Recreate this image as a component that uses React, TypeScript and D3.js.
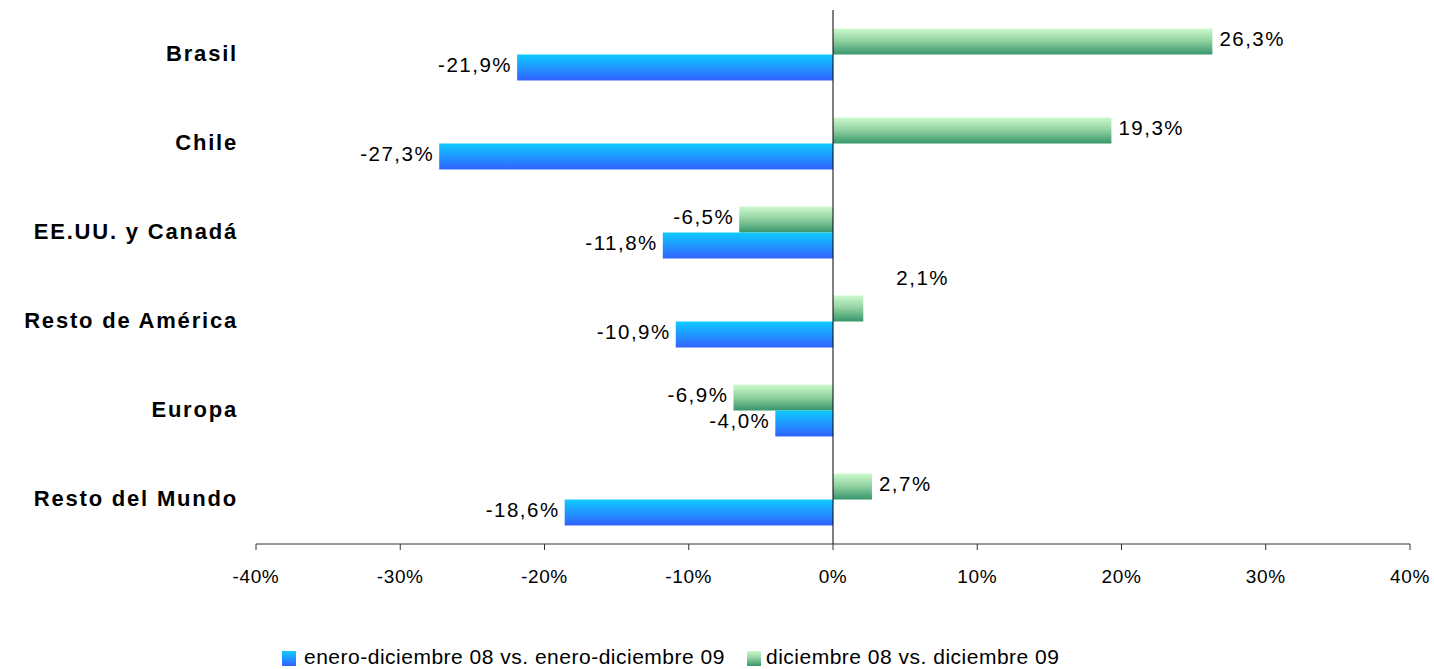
import { scaleBand, scaleLinear } from "d3"

const categories = ["Brasil", "Chile", "EE.UU. y Canadá", "Resto de América", "Europa", "Resto del Mundo"]
const seriesKeys = ["dic", "anual"]
const seriesNames = ["enero-diciembre 08 vs. enero-diciembre 09", "diciembre 08 vs. diciembre 09"]
// diciembre 08 vs diciembre 09 (verde)
const decValues = [26.3, 19.3, -6.5, 2.1, -6.9, 2.7]
// enero-diciembre 08 vs enero-diciembre 09 (azul)
const yearValues = [-21.9, -27.3, -11.8, -10.9, -4.0, -18.6]
const ticks = [-40, -30, -20, -10, 0, 10, 20, 30, 40]

const W = 1434
const H = 669
const FONT = "'Liberation Sans', Arial, sans-serif"

const fmt = (v: number) => `${v.toFixed(1).replace(".", ",")}%`

export default function App() {
  const x = scaleLinear().domain([-40, 40]).range([256, 1410])
  const y = scaleBand<string>().domain(categories).range([10, 544]).paddingInner(0.416).paddingOuter(0.208)
  const inner = scaleBand<string>().domain(seriesKeys).range([0, y.bandwidth()])

  const rows = categories.map((c, i) => ({ c, dic: decValues[i], anual: yearValues[i] }))

  // label tweaks, as placed by hand in the original
  const labelShift = (key: string, cat: string) =>
    key === "dic" && cat === "Resto de América" ? { dx: 26, dy: -28 } : { dx: 0, dy: 0 }

  return (
    <svg width={W} height={H} style={{ position: "absolute", left: 0, top: 0, background: "#fff" }} fontFamily={FONT}>
      <defs>
        <linearGradient id="gGreen" x1="0" y1="0" x2="0" y2="1">
          <stop offset="0%" stopColor="#ccfacc" />
          <stop offset="45%" stopColor="#96d4a4" />
          <stop offset="100%" stopColor="#36966a" />
        </linearGradient>
        <linearGradient id="gBlue" x1="0" y1="0" x2="0" y2="1">
          <stop offset="0%" stopColor="#0ecbff" />
          <stop offset="100%" stopColor="#3162ff" />
        </linearGradient>
      </defs>

      {/* bars */}
      {rows.map((r) =>
        seriesKeys.map((k) => {
          const v = k === "dic" ? r.dic : r.anual
          const x0 = x(Math.min(0, v))
          const x1 = x(Math.max(0, v))
          const yy = y(r.c)! + inner(k)!
          const h = inner.bandwidth()
          const s = labelShift(k, r.c)
          const lx = v >= 0 ? x1 + 7 + s.dx : x0 - 5 + s.dx
          return (
            <g key={r.c + k}>
              <rect x={x0} y={yy} width={x1 - x0} height={h} fill={k === "dic" ? "url(#gGreen)" : "url(#gBlue)"} />
              <text
                x={lx}
                y={yy + h / 2 - 1 + s.dy}
                dominantBaseline="middle"
                textAnchor={v >= 0 ? "start" : "end"}
                fontSize={20.5}
                letterSpacing={1.5}
                fill="#000"
              >
                {fmt(v)}
              </text>
            </g>
          )
        })
      )}

      {/* category labels */}
      {categories.map((c) => (
        <text
          key={c}
          x={238}
          y={y(c)! + y.bandwidth() / 2 + 1}
          textAnchor="end"
          dominantBaseline="middle"
          fontWeight="bold"
          fontSize={22}
          letterSpacing={1.8}
          fill="#000"
        >
          {c}
        </text>
      ))}

      {/* vertical axis at 0 */}
      <line x1={x(0)} x2={x(0)} y1={10} y2={544} stroke="#000" strokeWidth={1} />

      {/* horizontal axis */}
      <line x1={x(-40)} x2={x(40)} y1={544} y2={544} stroke="#333" strokeWidth={1} />
      {ticks.map((t) => (
        <g key={t}>
          <line x1={x(t)} x2={x(t)} y1={544} y2={550} stroke="#333" strokeWidth={1} />
          <text x={x(t)} y={583} textAnchor="middle" fontSize={19} letterSpacing={0.6} fill="#000">
            {`${t}%`}
          </text>
        </g>
      ))}

      {/* legend */}
      <g>
        <rect x={282} y={651} width={14} height={15} fill="url(#gBlue)" />
        <text x={304} y={664} fontSize={21} letterSpacing={0.5} fill="#000">
          {seriesNames[0]}
        </text>
        <rect x={747} y={651} width={14} height={15} fill="url(#gGreen)" />
        <text x={766} y={664} fontSize={21} letterSpacing={0.5} fill="#000">
          {seriesNames[1]}
        </text>
      </g>
    </svg>
  )
}
